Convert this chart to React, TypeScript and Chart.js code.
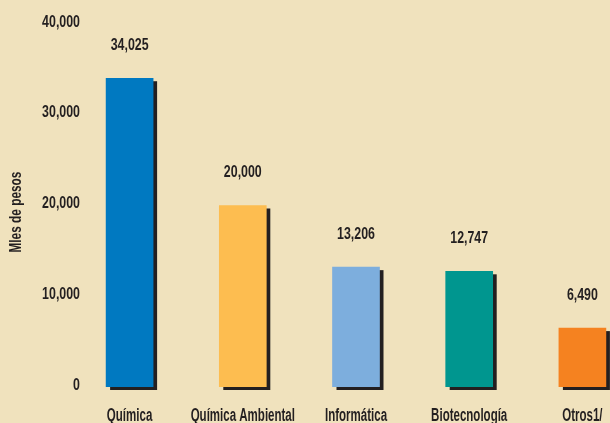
import React, { useEffect, useRef } from "react";
import { Chart, registerables } from "chart.js";

Chart.register(...registerables);

const categories = ["Química", "Química Ambiental", "Informática", "Biotecnología", "Otros1/"];
const values = [34025, 20000, 13206, 12747, 6490];
const barColors = ["#0079C1", "#FDBD50", "#7DAEDD", "#00968F", "#F58220"];
const yTicks = [0, 10000, 20000, 30000, 40000];
const yTitle = "Mles de pesos";

const FONT = "'Liberation Sans', Arial, sans-serif";
const TEXT = "#231F20";
const BG = "#F0E2BD";

const fmt = (v: number) => v.toLocaleString("en-US");

// horizontal condensing of the text, to imitate a condensed typeface
const textScale = (t: string) => {
  if (/^[\d,]+$/.test(t)) return 0.75;
  if (t.startsWith(yTitle)) return 0.74;
  return 0.64;
};

const condensePlugin = {
  id: "condense",
  beforeDraw(chart: any) {
    const ctx = chart.ctx;
    if (ctx.__condensed) return;
    const orig = ctx.fillText;
    ctx.fillText = function (text: string, x: number, y: number, maxWidth?: number) {
      const s = textScale(String(text));
      this.save();
      this.translate(x, y);
      this.scale(s, 1);
      if (maxWidth === undefined) orig.call(this, text, 0, 0);
      else orig.call(this, text, 0, 0, maxWidth / s);
      this.restore();
    };
    ctx.__condensed = true;
  },
};

const shadowPlugin = {
  id: "barShadow",
  beforeDatasetsDraw(chart: any) {
    const ctx = chart.ctx;
    const meta = chart.getDatasetMeta(0);
    ctx.save();
    ctx.fillStyle = TEXT;
    meta.data.forEach((bar: any) => {
      const { x, y, base, width } = bar.getProps(["x", "y", "base", "width"], true);
      ctx.fillRect(x - width / 2 + 4, y + 3, width, base - y);
    });
    ctx.restore();
  },
};

const valueLabelPlugin = {
  id: "valueLabels",
  afterDatasetsDraw(chart: any) {
    const ctx = chart.ctx;
    const meta = chart.getDatasetMeta(0);
    ctx.save();
    ctx.fillStyle = TEXT;
    ctx.font = `bold 16.5px ${FONT}`;
    ctx.textAlign = "center";
    ctx.textBaseline = "middle";
    meta.data.forEach((bar: any, i: number) => {
      const { x, y } = bar.getProps(["x", "y"], true);
      ctx.fillText(fmt(values[i]), x, y - 33);
    });
    ctx.restore();
  },
};

export default function App() {
  const ref = useRef<HTMLCanvasElement | null>(null);

  useEffect(() => {
    if (!ref.current) return;
    const chart = new Chart(ref.current, {
      type: "bar",
      data: {
        labels: categories,
        datasets: [
          {
            data: values,
            backgroundColor: barColors,
            borderWidth: 0,
            barThickness: 47,
          },
        ],
      },
      options: {
        animation: false,
        responsive: false,
        devicePixelRatio: 1,
        layout: { padding: { top: 24, right: 1, left: 0, bottom: 0 } },
        plugins: {
          legend: { display: false },
          tooltip: { enabled: false },
        },
        scales: {
          x: {
            grid: { display: false, drawTicks: false },
            border: { display: false },
            ticks: {
              color: TEXT,
              font: { family: FONT, size: 18, weight: "bold" },
              padding: 18,
              maxRotation: 0,
              autoSkip: false,
            },
            afterFit(scale: any) {
              scale.height = 36;
            },
          },
          y: {
            min: 0,
            max: 40000,
            afterBuildTicks(scale: any) {
              scale.ticks = yTicks.map((v) => ({ value: v }));
            },
            grid: { display: false, drawTicks: false },
            border: { display: false },
            ticks: {
              color: TEXT,
              font: { family: FONT, size: 16.5, weight: "bold" },
              mirror: true,
              crossAlign: "far",
              padding: -43.5,
              labelOffset: -2,
              callback: (v: any) => fmt(Number(v)),
            },
            title: {
              display: true,
              text: yTitle + "    ",
              color: TEXT,
              font: { family: FONT, size: 16, weight: "bold" },
              padding: { top: 7, bottom: 0 },
            },
            afterFit(scale: any) {
              scale.width = 73;
            },
          },
        },
      },
      plugins: [condensePlugin, shadowPlugin, valueLabelPlugin],
    });
    return () => chart.destroy();
  }, []);

  return (
    <div
      style={{
        position: "fixed",
        left: 0,
        top: 0,
        width: 610,
        height: 423,
        overflow: "hidden",
        background: BG,
      }}
    >
      <canvas ref={ref} width={640} height={423} style={{ display: "block", width: 640, height: 423 }} />
    </div>
  );
}
